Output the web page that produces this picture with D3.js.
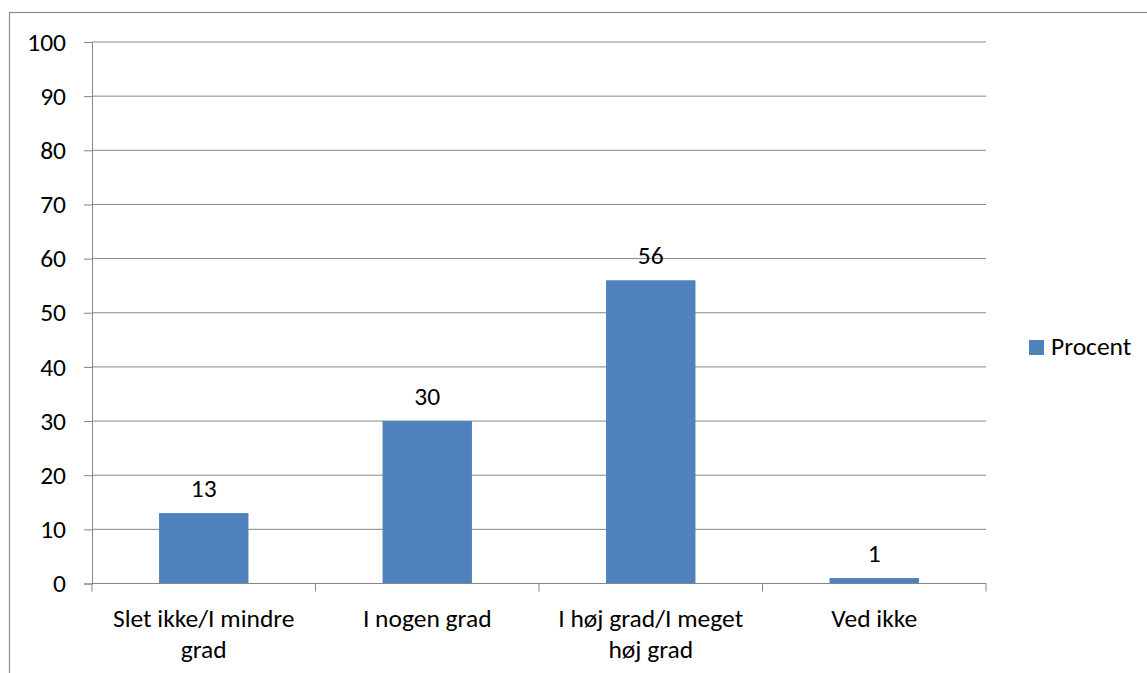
<!DOCTYPE html>
<html>
<head>
<meta charset="utf-8">
<script src="https://cdn.jsdelivr.net/npm/d3@7"></script>
<style>
  body { margin: 0; background: #fff; }
  text { font-family: Carlito, Calibri, Lato, sans-serif; fill: #000; }
</style>
</head>
<body>
<div id="chart"></div>
<script>
// chart data
const categories = [["Slet ikke/I mindre", "grad"], ["I nogen grad"], ["I høj grad/I meget", "høj grad"], ["Ved ikke"]]
const values = [13, 30, 56, 1]
const yTicks = [0, 10, 20, 30, 40, 50, 60, 70, 80, 90, 100]
const seriesName = "Procent"

const width = 1147
const height = 673
const plotLeft = 92, plotRight = 986, plotTop = 42, plotBottom = 583.5
const fontSize = "25.5px"

const svg = d3.select("#chart").append("svg")
  .attr("width", width)
  .attr("height", height)

// outer frame (runs off the canvas at right and bottom)
svg.append("rect")
  .attr("x", 9.5).attr("y", 12.5)
  .attr("width", 1160).attr("height", 700)
  .attr("fill", "none")
  .attr("stroke", "#8c8c8c")
  .attr("stroke-width", 1.2)

const x = d3.scaleBand()
  .domain(d3.range(categories.length))
  .range([plotLeft, plotRight])
  .paddingInner(0.6)
  .paddingOuter(0.3)

const y = d3.scaleLinear().domain([0, 100]).range([plotBottom, plotTop])

// gridlines
svg.append("g").selectAll("line").data(yTicks.filter(d => d > 0)).enter().append("line")
  .attr("x1", plotLeft).attr("x2", plotRight)
  .attr("y1", d => y(d)).attr("y2", d => y(d))
  .attr("stroke", "#868686").attr("stroke-width", 1)

// y axis
const yAxis = svg.append("g")
  .attr("transform", `translate(${plotLeft},0)`)
  .call(d3.axisLeft(y).tickValues(yTicks).tickSize(8).tickPadding(18))
yAxis.attr("font-size", null).attr("font-family", null)
yAxis.select(".domain").attr("stroke", "#868686")
yAxis.selectAll(".tick line").attr("stroke", "#868686")
yAxis.selectAll("text").style("font-size", fontSize).attr("fill", "#000")

// bars
svg.append("g").selectAll("rect").data(values).enter().append("rect")
  .attr("x", (d, i) => x(i))
  .attr("y", d => y(d))
  .attr("width", x.bandwidth())
  .attr("height", d => plotBottom - y(d))
  .attr("fill", "#4F81BD")

// value labels
svg.append("g").selectAll("text").data(values).enter().append("text")
  .attr("x", (d, i) => x(i) + x.bandwidth() / 2)
  .attr("y", d => y(d) - 16)
  .attr("text-anchor", "middle")
  .style("font-size", fontSize)
  .text(d => d)

// x axis
const step = (plotRight - plotLeft) / categories.length
const xAxis = svg.append("g")
xAxis.append("line")
  .attr("x1", plotLeft).attr("x2", plotRight)
  .attr("y1", plotBottom).attr("y2", plotBottom)
  .attr("stroke", "#868686")
xAxis.selectAll(".xt").data(d3.range(categories.length + 1)).enter().append("line")
  .attr("x1", i => plotLeft + i * step).attr("x2", i => plotLeft + i * step)
  .attr("y1", plotBottom).attr("y2", plotBottom + 8)
  .attr("stroke", "#868686")

const catLabels = xAxis.selectAll(".cat").data(categories).enter().append("text")
  .attr("text-anchor", "middle")
  .style("font-size", fontSize)
catLabels.each(function(lines, i) {
  d3.select(this).selectAll("tspan").data(lines).enter().append("tspan")
    .attr("x", x(i) + x.bandwidth() / 2)
    .attr("y", (d, j) => 627 + j * 31)
    .text(d => d)
})

// legend
const legend = svg.append("g")
legend.append("rect")
  .attr("x", 1029).attr("y", 340).attr("width", 15).attr("height", 15)
  .attr("fill", "#4F81BD")
legend.append("text")
  .attr("x", 1051).attr("y", 355)
  .style("font-size", fontSize)
  .text(seriesName)
</script>
</body>
</html>
